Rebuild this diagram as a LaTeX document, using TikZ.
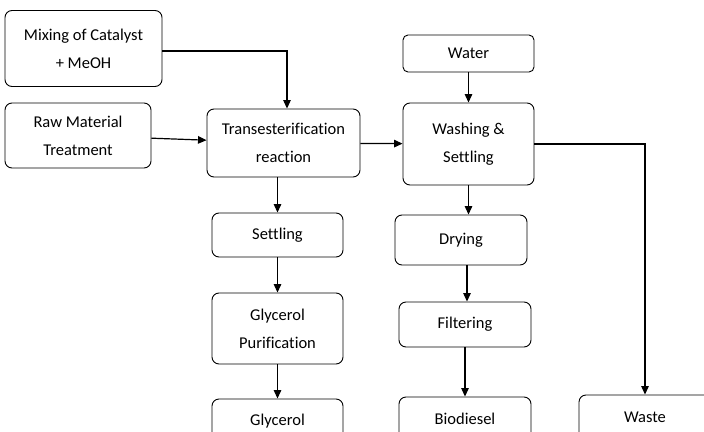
\documentclass[tikz,border=0pt]{standalone}
\usepackage{fontspec}
\setmainfont{Carlito}[Ligatures={NoCommon,NoRare,NoContextual}]
\usetikzlibrary{arrows.meta,positioning}

\begin{document}
\begin{tikzpicture}[x=1pt, y=-1pt, on grid,
  box/.style={draw, rounded corners=7pt, align=center, inner sep=0pt,
    line width=0.9pt, font=\fontsize{16.5}{28}\selectfont},
  flow/.style={-{Triangle[length=8.5pt,width=7.5pt]}, line width=1.2pt}]
\useasboundingbox (0,0) rectangle (704,431);
\clip (0,0) rectangle (704,431);
% left column
\node [box, minimum width=157pt, minimum height=76pt] (mix) at (83.5,48.5) {Mixing of Catalyst\\+ MeOH};
\node [box, minimum width=146pt, minimum height=65pt] (raw) at (78,135.5) {Raw Material\\Treatment};
\node [box, minimum width=153pt, minimum height=68pt] (trans) at (283.5,143) {Transesterification\\reaction};
\node [box, minimum width=131pt, minimum height=44pt] (settle) at (277.5,235) {Settling};
\node [box, minimum width=131pt, minimum height=71pt] (glypur) [below=93.5pt of settle] {Glycerol\\Purification};
\node [box, minimum width=131pt, minimum height=44pt] (gly) [below=92.5pt of glypur] {Glycerol};
% right column
\node [box, minimum width=131pt, minimum height=37pt, rounded corners=5pt] (water) at (468.5,53.5) {Water};
\node [box, minimum width=131pt, minimum height=82pt] (wash) [below=90.5pt of water] {Washing \&\\Settling};
\node [box, minimum width=132pt, minimum height=50pt] (dry) at (461,240) {Drying};
\node [box, minimum width=132pt, minimum height=45pt] (filt) at (465,324.5) {Filtering};
\node [box, minimum width=132pt, minimum height=44pt] (bio) [below=94.5pt of filt] {Biodiesel};
\node [box, minimum width=132pt, minimum height=44pt] (waste) at (645,417) {Waste};
% connectors
\draw [flow] ([yshift=-2.5pt]mix.east) -| ([xshift=3.5pt]trans.north);
\draw [flow] (raw) -- (trans);
\draw [flow] (trans) -- (wash);
\draw [flow] (water) -- (wash);
\draw [flow] (wash) -| (waste);
\draw [flow] (settle |- trans.south) -- (settle.north);
\draw [flow] (settle) -- (glypur);
\draw [flow] (glypur) -- (gly);
\draw [flow] (wash.south) -- (wash.south |- dry.north);
\draw [flow] ([xshift=6pt]dry.south) -- ([xshift=2pt]filt.north);
\draw [flow] (filt) -- (bio);
\end{tikzpicture}
\end{document}
